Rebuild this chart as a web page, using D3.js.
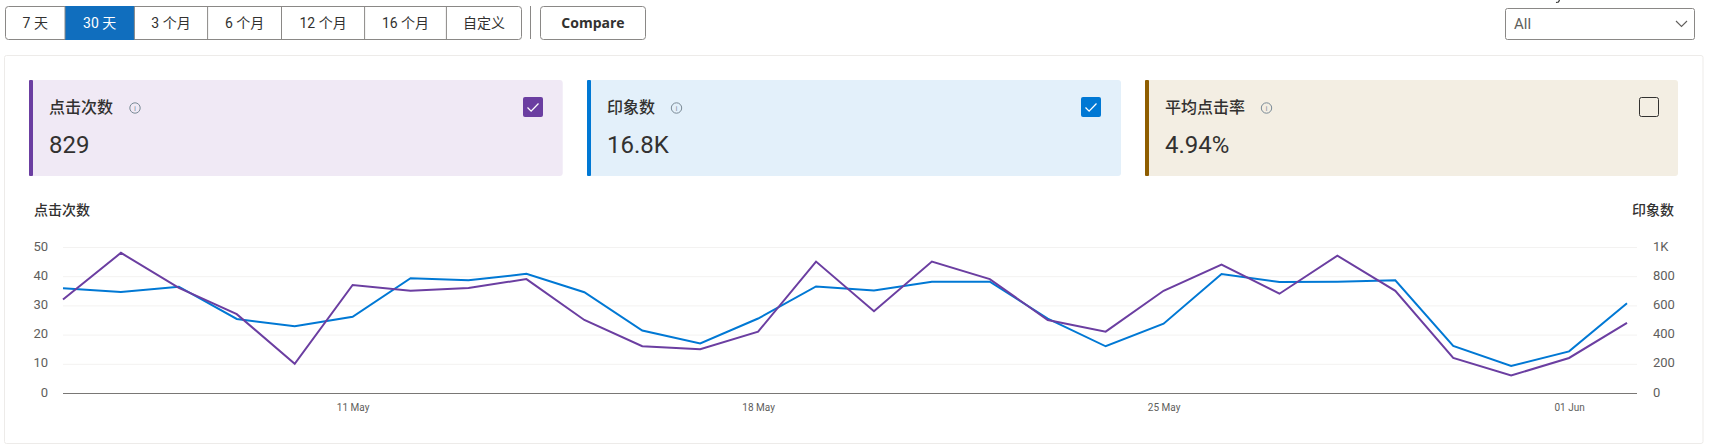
<!DOCTYPE html>
<html><head><meta charset="utf-8">
<script src="https://cdn.jsdelivr.net/npm/d3@7"></script>
<style>
html,body{margin:0;padding:0;background:#fff;overflow:hidden}
svg{display:block}
text{font-family:"Open Sans","Noto Sans CJK SC",sans-serif;fill:#323130}
.tick text{fill:#605e5c;font-family:Roboto,"Open Sans",sans-serif}
</style></head><body><div id="c"></div>
<script>
const dates=["2025-05-06","2025-05-07","2025-05-08","2025-05-09","2025-05-10","2025-05-11","2025-05-12","2025-05-13","2025-05-14","2025-05-15","2025-05-16","2025-05-17","2025-05-18","2025-05-19","2025-05-20","2025-05-21","2025-05-22","2025-05-23","2025-05-24","2025-05-25","2025-05-26","2025-05-27","2025-05-28","2025-05-29","2025-05-30","2025-05-31","2025-06-01","2025-06-02"];
const clicks=[32,48,36,27,10,37,35,36,39,25,16,15,21,45,28,45,39,25,21,35,44,34,47,35,12,6,12,24];
const impressions=[718,692,728,507,457,522,786,772,816,690,428,340,510,730,702,762,762,510,320,475,815,760,762,772,322,185,285,615];
const clickTicks=[0,10,20,30,40,50];
const impressionTicks=[0,200,400,600,800,1000];
const dateTicks=["2025-05-11","2025-05-18","2025-05-25","2025-06-01"];
const rangeLabels=["7 天","30 天","3 个月","6 个月","12 个月","16 个月","自定义"];
const rangeEdges=[5.5,65,134.4,207.6,281.5,364.6,446.4,521.5];
const metricNames=["点击次数","印象数","平均点击率"];
const metricValues=["829","16.8K","4.94%"];
const metricChecked=[true,true,false];
const metricAccent=["#6b3ea1","#0078d4","#8e5d00"];
const metricBg=["#f0e9f5","#e3f0fa","#f3eee3"];
const metricLeft=[29,587,1145];
const metricRight=[562.7,1121,1678];
const infoX=[135,676.5,1266.5];
const checkX=[523,1081,1639];

const W=1710,H=448;
const svg=d3.select("#c").append("svg").attr("width",W).attr("height",H);

// range buttons
const bar=svg.append("g");
bar.append("rect").attr("x",5.5).attr("y",6.5).attr("width",516).attr("height",33).attr("rx",3).attr("fill","#fff").attr("stroke","#8a8886");
bar.append("rect").attr("x",rangeEdges[1]).attr("y",6).attr("width",rangeEdges[2]-rangeEdges[1]).attr("height",34).attr("fill","#106ebe");
rangeLabels.forEach((t,i)=>{
  if(i>0) bar.append("line").attr("x1",rangeEdges[i]).attr("x2",rangeEdges[i]).attr("y1",6.5).attr("y2",39.5).attr("stroke","#8a8886");
  bar.append("text").attr("x",(rangeEdges[i]+rangeEdges[i+1])/2).attr("y",28).attr("text-anchor","middle")
    .attr("font-size",14).style("font-family",'Roboto,"Noto Sans CJK SC",sans-serif').style("fill",i===1?"#fff":"#323130").text(t);
});
svg.append("line").attr("x1",530.5).attr("x2",530.5).attr("y1",6).attr("y2",39).attr("stroke","#8a8886");
svg.append("rect").attr("x",540.5).attr("y",6.5).attr("width",105).attr("height",33).attr("rx",3).attr("fill","#fff").attr("stroke","#8a8886");
svg.append("text").attr("x",593).attr("y",28).attr("text-anchor","middle").attr("font-size",14).attr("font-weight",700).text("Compare");

// dropdown, with the sliver of ink the page crop leaves above it
svg.append("path").attr("d","M1559.5 0L1558.5 2L1556 2.5").attr("fill","none").attr("stroke","#323130").attr("stroke-width",1.2);
svg.append("rect").attr("x",1505.5).attr("y",8.5).attr("width",189).attr("height",31).attr("rx",2).attr("fill","#fff").attr("stroke","#8a8886");
svg.append("text").attr("x",1514).attr("y",29).attr("font-size",15).style("font-family","Roboto,sans-serif").style("fill","#605e5c").text("All");
svg.append("path").attr("d","M1676 21l5.5 5.5 5.5-5.5").attr("fill","none").attr("stroke","#605e5c").attr("stroke-width",1.1);

// card
svg.append("rect").attr("x",4.5).attr("y",55.5).attr("width",1698.5).attr("height",388).attr("rx",2).attr("fill","#fff").attr("stroke","#edebe9");

// metric tiles
metricNames.forEach((n,i)=>{
  const g=svg.append("g"), x0=metricLeft[i], x1=metricRight[i];
  g.append("rect").attr("x",x0).attr("y",80).attr("width",x1-x0).attr("height",96).attr("rx",3).attr("fill",metricBg[i]);
  g.append("rect").attr("x",x0).attr("y",80).attr("width",4).attr("height",96).attr("rx",1).attr("fill",metricAccent[i]);
  g.append("text").attr("x",x0+20).attr("y",113).attr("font-size",16).attr("font-weight",500).text(n);
  g.append("text").attr("x",x0+20).attr("y",153).attr("font-size",24).style("font-family","Roboto,sans-serif").text(metricValues[i]);
  g.append("circle").attr("cx",infoX[i]).attr("cy",108).attr("r",5.2).attr("fill","none").attr("stroke","#7a8a96").attr("stroke-width",1);
  g.append("text").attr("x",infoX[i]).attr("y",111).attr("text-anchor","middle").attr("font-size",8).style("fill","#7a8a96").text("i");
  const c=checkX[i];
  if(metricChecked[i]){
    g.append("rect").attr("x",c).attr("y",97).attr("width",20).attr("height",20).attr("rx",2).attr("fill",metricAccent[i]);
    g.append("path").attr("d",`M${c+4.5} ${107.5}l3.6 3.6 7.4-7.6`).attr("fill","none").attr("stroke","#fff").attr("stroke-width",1.3);
  } else {
    g.append("rect").attr("x",c+.5).attr("y",97.5).attr("width",19).attr("height",19).attr("rx",2).attr("fill","none").attr("stroke","#323130");
  }
});

// chart
const plot={l:63,r:1627,gridR:1637,top:247,bottom:393};
const parse=d3.utcParse("%Y-%m-%d");
const x=d3.scaleUtc().domain([parse(dates[0]),parse(dates[dates.length-1])]).range([plot.l,plot.r]);
const yL=d3.scaleLinear().domain([0,50]).range([plot.bottom,plot.top]);
const yR=d3.scaleLinear().domain([0,1000]).range([plot.bottom,plot.top]);

svg.append("text").attr("x",34).attr("y",215).attr("font-size",14).attr("font-weight",500).text("点击次数");
svg.append("text").attr("x",1674).attr("y",215).attr("text-anchor","end").attr("font-size",14).attr("font-weight",500).text("印象数");

const grid=svg.append("g").attr("transform",`translate(${plot.l},0)`)
  .call(d3.axisRight(yL).tickValues(clickTicks).tickSize(plot.gridR-plot.l).tickFormat(""));
grid.select(".domain").remove();
grid.selectAll(".tick line").attr("stroke",d=>d===0?"#797775":"#f3f2f1").attr("stroke-width",d=>d===0?1.2:1);

const left=svg.append("g").attr("transform",`translate(48,-1)`)
  .call(d3.axisLeft(yL).tickValues(clickTicks).tickSize(0).tickPadding(0));
left.select(".domain").remove();
left.selectAll("text").attr("font-size",13);

const right=svg.append("g").attr("transform",`translate(1653,-1)`)
  .call(d3.axisRight(yR).tickValues(impressionTicks).tickSize(0).tickPadding(0)
    .tickFormat(d=>d>=1000?(d/1000)+"K":d));
right.select(".domain").remove();
right.selectAll("text").attr("font-size",13);

const bottom=svg.append("g").attr("transform",`translate(0,${plot.bottom})`)
  .call(d3.axisBottom(x).tickValues(dateTicks.map(parse)).tickSize(0).tickPadding(11)
    .tickFormat(d3.utcFormat("%d %b")));
bottom.select(".domain").remove();
bottom.selectAll("text").attr("font-size",10);

const line=(y,vals)=>d3.line().x((d,i)=>x(parse(dates[i]))).y(d=>y(d))(vals);
svg.append("path").attr("d",line(yR,impressions)).attr("fill","none").attr("stroke","#0078d4").attr("stroke-width",2);
svg.append("path").attr("d",line(yL,clicks)).attr("fill","none").attr("stroke","#6b3ea1").attr("stroke-width",2);
</script></body></html>
